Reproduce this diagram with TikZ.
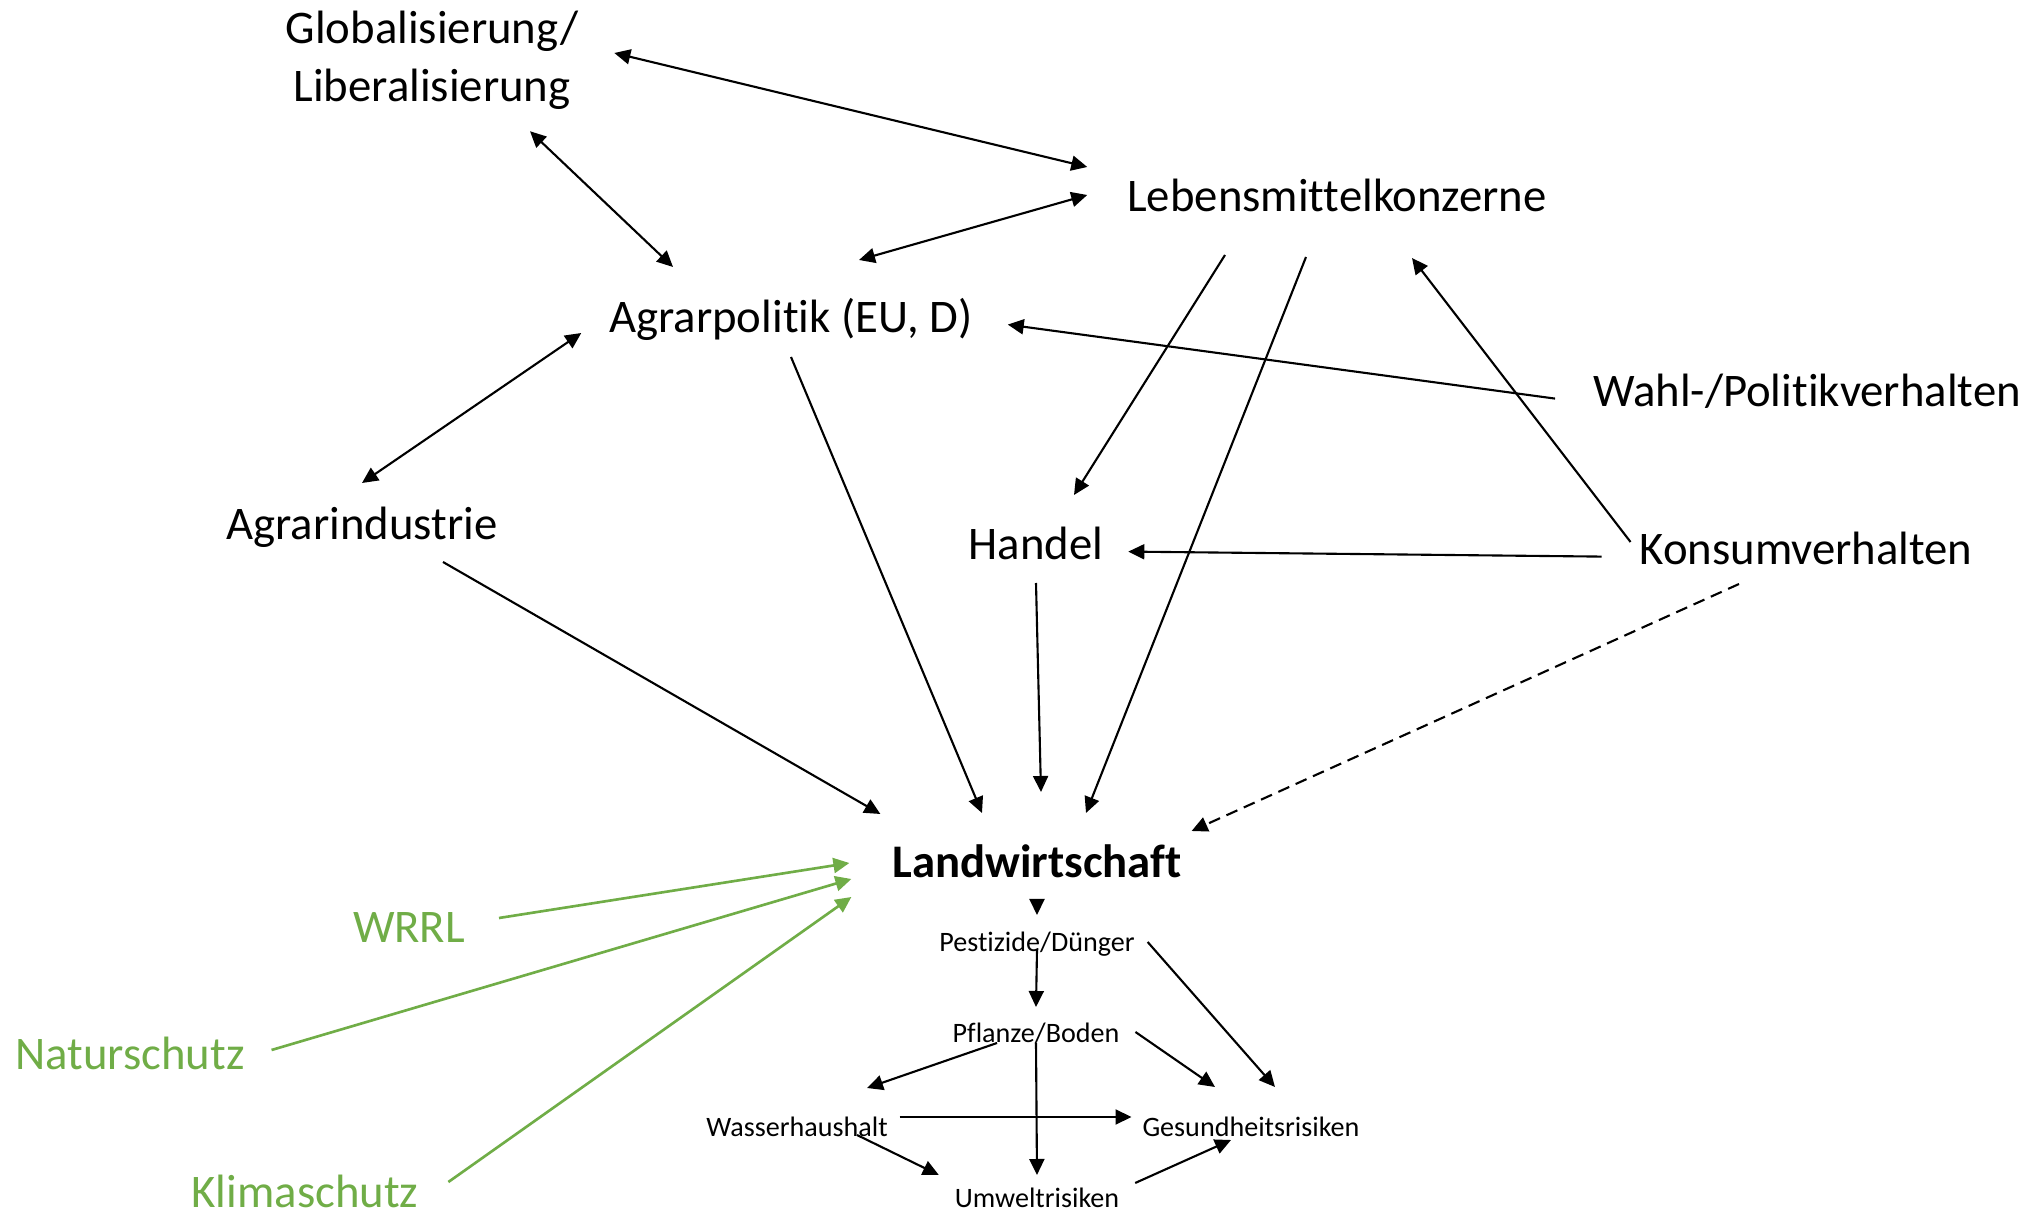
\documentclass[tikz,border=0pt]{standalone}
\usepackage{fontspec}
\setmainfont[Ligatures=NoCommon]{Carlito}
\usepackage{tikz}
\usetikzlibrary{arrows.meta}
\definecolor{lawgreen}{HTML}{70AD47}

\begin{document}
\begin{tikzpicture}
\tikzstyle{factor}=[inner sep=0pt,outer sep=0pt,anchor=base,font=\fontsize{13.3}{16.5}\selectfont]
\tikzstyle{effect}=[inner sep=0pt,outer sep=0pt,anchor=base,font=\fontsize{8}{9.6}\selectfont]
\tikzstyle{law}=[factor,text=lawgreen]
\tikzstyle{link}=[line width=0.6pt,-{Triangle[length=1.6mm,width=1.5mm]}]
\tikzstyle{both}=[link,{Triangle[length=1.6mm,width=1.5mm]}-{Triangle[length=1.6mm,width=1.5mm]}]
\tikzstyle{green link}=[link,lawgreen,line width=0.75pt]
\useasboundingbox (0,0) rectangle (20.43,-12.16);
\node[factor,anchor=center,align=center] (glob) at (4.32,-0.60) {Globalisierung/\\Liberalisierung};
\node[factor] (lm) at (13.37,-2.12) {Lebensmittelkonzerne};
\node[factor] (ap) at (7.91,-3.33) {Agrarpolitik (EU, D)};
\node[factor] (wp) at (18.07,-4.07) {Wahl-/Politikverhalten};
\node[factor] (ai) at (3.62,-5.40) {Agrarindustrie};
\node[factor] (ha) at (10.36,-5.60) {Handel};
\node[factor] (kv) at (18.06,-5.65) {Konsumverhalten};
\node[factor,font=\fontsize{13.3}{16.5}\selectfont\bfseries] (lw) at (10.37,-8.78) {Landwirtschaft};
\node[law] (wrrl) at (4.09,-9.43) {WRRL};
\node[law] (ns) at (1.30,-10.70) {Naturschutz};
\node[law] (ks) at (3.05,-12.07) {Klimaschutz};
\node[effect] (pd) at (10.37,-9.52) {Pestizide/Dünger};
\node[effect] (pb) at (10.36,-10.43) {Pflanze/Boden};
\node[effect] (wh) at (7.97,-11.36) {Wasserhaushalt};
\node[effect] (gr) at (12.51,-11.36) {Gesundheitsrisiken};
\node[effect] (ur) at (10.37,-12.08) {Umweltrisiken};
\path[both]
([xshift=3.6mm,yshift=0.7mm]glob.east) edge ([xshift=-4mm,yshift=4.5mm]lm.base west)
([xshift=9.8mm,yshift=-2.2mm]glob.south) edge ([xshift=-11.8mm,yshift=6.6mm]ap.base)
([xshift=6.8mm,yshift=7.3mm]ap.base) edge ([xshift=-4mm,yshift=1.7mm]lm.base west)
([yshift=5.7mm]ai.base) edge ([xshift=-2.8mm]ap.base west)
;
\path[link]
([xshift=-3.8mm]wp.mid west) edge ([xshift=3.5mm]ap.mid east)
([xshift=-11.2mm,yshift=-4.3mm]lm.base) edge ([xshift=3.8mm,yshift=6.5mm]ha.base)
([xshift=-3.1mm,yshift=-4.5mm]lm.base) edge ([xshift=4.9mm,yshift=6.5mm]lw.base)
([xshift=-0.9mm,yshift=2.3mm]kv.base west) edge ([xshift=7.5mm,yshift=-4.6mm]lm.base)
([xshift=-3.8mm]kv.mid west) edge ([xshift=2.5mm]ha.mid east)
([yshift=-2.4mm]ap.base) edge ([xshift=-5.5mm,yshift=6.5mm]lw.base)
([xshift=8.1mm,yshift=-2.2mm]ai.base) edge ([xshift=-1.2mm,yshift=6.4mm]lw.base west)
([yshift=-2.3mm]ha.base) edge ([xshift=0.4mm,yshift=8.6mm]lw.base)
([xshift=-6.7mm,yshift=-1.9mm]kv.base) edge[dash pattern=on 3.4pt off 2pt] ([xshift=1mm,yshift=4.7mm]lw.base east)
;
\path[green link]
([xshift=3.4mm,yshift=2.5mm]wrrl.base east) edge ([xshift=-4.3mm,yshift=1.5mm]lw.base west)
([xshift=2.7mm,yshift=2mm]ns.base east) edge ([xshift=-4.1mm,yshift=-0.1mm]lw.base west)
([xshift=3mm,yshift=2.5mm]ks.base east) edge ([xshift=-4.1mm,yshift=-1.9mm]lw.base west)
;
\path[link]
([yshift=-2.2mm]lw.base) edge ([yshift=3.7mm]pd.base)
([yshift=0.2mm]pd.base) edge ([yshift=3.6mm]pb.base)
([xshift=1.3mm,yshift=1mm]pd.base east) edge ([xshift=2.4mm,yshift=4.9mm]gr.base)
([xshift=-3.9mm]pb.base) edge ([xshift=7mm,yshift=4.8mm]wh.base)
(pb.base) edge ([yshift=3.3mm]ur.base)
([xshift=1.6mm,yshift=1.1mm]pb.base east) edge ([xshift=-3.6mm,yshift=4.9mm]gr.base)
([xshift=1.2mm,yshift=1.9mm]wh.base east) edge ([xshift=-1.1mm,yshift=1.9mm]gr.base west)
([xshift=6mm,yshift=0.1mm]wh.base) edge ([xshift=-1.6mm,yshift=3.3mm]ur.base west)
([xshift=1.6mm,yshift=2.5mm]ur.base east) edge ([xshift=-2mm,yshift=-0.4mm]gr.base)
;
\end{tikzpicture}
\end{document}
